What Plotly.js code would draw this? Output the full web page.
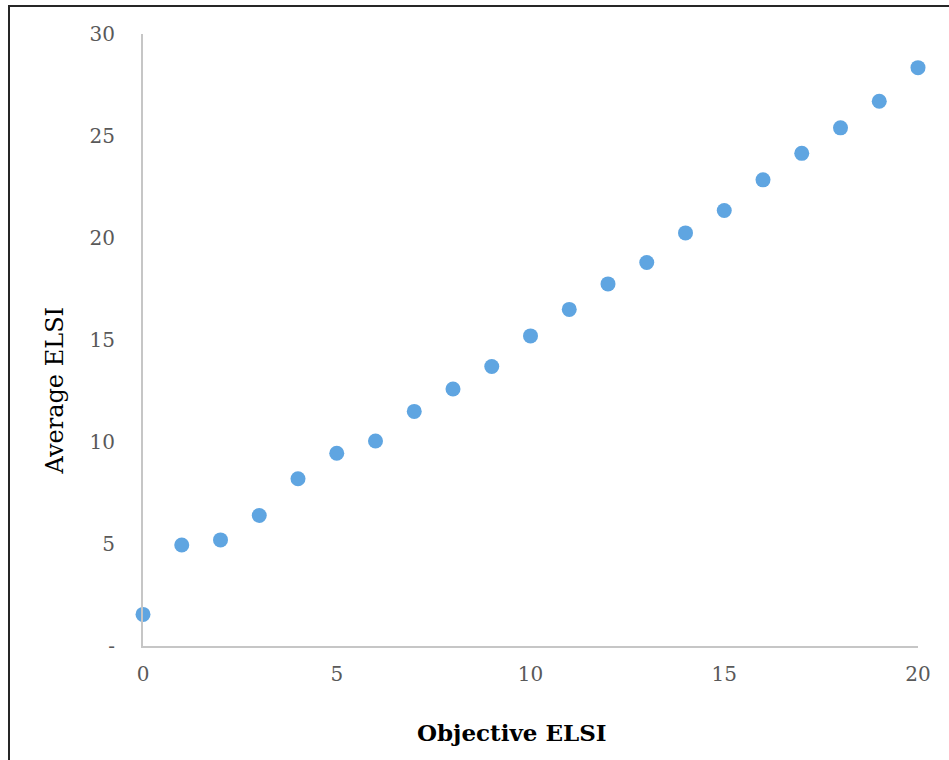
<!DOCTYPE html>
<html>
<head>
<meta charset="utf-8">
<script src="https://cdn.plot.ly/plotly-3.0.1.min.js"></script>
<style>
html,body{margin:0;padding:0;background:#fff;overflow:hidden;}
#chart{width:949px;height:760px;position:absolute;left:0;top:0;}
#frame{position:absolute;left:8px;top:5px;width:1000px;height:800px;border-left:2px solid #262626;border-top:2px solid #262626;pointer-events:none;}
</style>
</head>
<body>
<div id="chart"></div>
<div id="frame"></div>
<script>
const objectiveELSI = [0,1,2,3,4,5,6,7,8,9,10,11,12,13,14,15,16,17,18,19,20];
const averageELSI = [1.55,4.95,5.2,6.4,8.2,9.45,10.05,11.5,12.6,13.7,15.2,16.5,17.75,18.8,20.25,21.35,22.85,24.15,25.4,26.7,28.35];
const yTickVals = [0,5,10,15,20,25,30];
const yTickText = ['-','5','10','15','20','25','30'];
const xTickVals = [0,5,10,15,20];
const xTitle = 'Objective ELSI';
const yTitle = 'Average ELSI';

const serif = 'DejaVu Serif, Liberation Serif, serif';

Plotly.newPlot('chart', [{
  x: objectiveELSI,
  y: averageELSI,
  type: 'scatter',
  mode: 'markers',
  marker: {color: '#5fa5e1', size: 15},
  cliponaxis: false,
  hoverinfo: 'x+y'
}], {
  width: 949, height: 760,
  margin: {l: 143, r: 31, t: 34, b: 114, pad: 0},
  paper_bgcolor: '#ffffff',
  plot_bgcolor: '#ffffff',
  showlegend: false,
  xaxis: {
    range: [0, 20],
    tickvals: xTickVals,
    showgrid: false, zeroline: false,
    showline: true, linecolor: '#c6c6c6', linewidth: 2,
    ticks: 'outside', ticklen: 9, tickcolor: 'rgba(0,0,0,0)',
    tickfont: {family: serif, size: 20, color: '#595959'}
  },
  yaxis: {
    range: [0, 30],
    tickvals: yTickVals, ticktext: yTickText,
    showgrid: false, zeroline: false,
    showline: true, linecolor: '#c6c6c6', linewidth: 2,
    ticks: 'outside', ticklen: 22, tickcolor: 'rgba(0,0,0,0)',
    tickfont: {family: serif, size: 20, color: '#595959'}
  },
  annotations: [
    {text: xTitle, xref: 'paper', yref: 'paper', x: 0.476, y: -0.142,
     xanchor: 'center', yanchor: 'middle', showarrow: false,
     font: {family: serif, size: 23, color: '#000000', weight: 'bold'}},
    {text: yTitle, xref: 'paper', yref: 'paper', x: -0.113, y: 0.4167,
     xanchor: 'center', yanchor: 'middle', showarrow: false, textangle: -90,
     font: {family: serif, size: 24, color: '#000000'}}
  ]
}, {displayModeBar: false, staticPlot: true});
</script>
</body>
</html>
